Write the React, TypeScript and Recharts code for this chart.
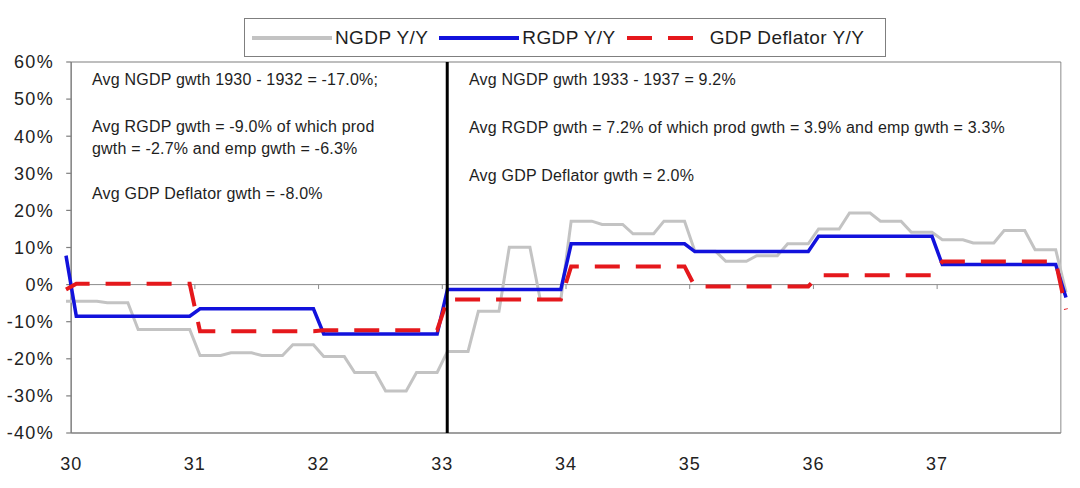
import { LineChart, Line, XAxis, YAxis, ReferenceLine, Legend } from 'recharts';

const FONT = '"Liberation Sans", Arial, sans-serif';

// year labels on the category axis and the percent ticks
const years = [30, 31, 32, 33, 34, 35, 36, 37];
const pctTicks = [-40, -30, -20, -10, 0, 10, 20, 30, 40, 50, 60];
const frameStart = 30;
const frameEnd = 38;
const dividerAt = 33.04;

// monthly Y/Y growth, Dec 1929 .. Jan 1938
const ngdp = [
  -4.5,
  -4.5, -4.5, -4.5, -4.9, -4.9, -4.9, -12.1, -12.1, -12.1, -12.1, -12.1, -12.1,
  -19.1, -19.1, -19.1, -18.4, -18.4, -18.4, -19.1, -19.1, -19.1, -16.2, -16.2, -16.2,
  -19.4, -19.4, -19.4, -23.7, -23.7, -23.7, -28.7, -28.7, -28.7, -23.7, -23.7, -23.7,
  -18.0, -18.0, -18.0, -7.2, -7.2, -7.2, 10.1, 10.1, 10.1, -4.0, -4.0, -4.0,
  17.1, 17.1, 17.1, 16.2, 16.2, 16.2, 13.7, 13.7, 13.7, 17.1, 17.1, 17.1,
  9.0, 9.0, 9.0, 6.3, 6.3, 6.3, 7.8, 7.8, 7.8, 11.0, 11.0, 11.0,
  15.0, 15.0, 15.0, 19.3, 19.3, 19.3, 17.1, 17.1, 17.1, 14.1, 14.1, 14.1,
  12.1, 12.1, 12.1, 11.2, 11.2, 11.2, 14.6, 14.6, 14.6, 9.4, 9.4, 9.4,
  -2.0,
];

const rgdp = [
  7.8,
  -8.5, -8.5, -8.5, -8.5, -8.5, -8.5, -8.5, -8.5, -8.5, -8.5, -8.5, -8.5,
  -6.5, -6.5, -6.5, -6.5, -6.5, -6.5, -6.5, -6.5, -6.5, -6.5, -6.5, -6.5,
  -13.3, -13.3, -13.3, -13.3, -13.3, -13.3, -13.3, -13.3, -13.3, -13.3, -13.3, -13.3,
  -1.3, -1.3, -1.3, -1.3, -1.3, -1.3, -1.3, -1.3, -1.3, -1.3, -1.3, -1.3,
  11.0, 11.0, 11.0, 11.0, 11.0, 11.0, 11.0, 11.0, 11.0, 11.0, 11.0, 11.0,
  8.9, 8.9, 8.9, 8.9, 8.9, 8.9, 8.9, 8.9, 8.9, 8.9, 8.9, 8.9,
  13.0, 13.0, 13.0, 13.0, 13.0, 13.0, 13.0, 13.0, 13.0, 13.0, 13.0, 13.0,
  5.4, 5.4, 5.4, 5.4, 5.4, 5.4, 5.4, 5.4, 5.4, 5.4, 5.4, 5.4,
  -3.5,
];

const deflator = [
  -1.3,
  0.2, 0.2, 0.2, 0.2, 0.2, 0.2, 0.2, 0.2, 0.2, 0.2, 0.2, 0.2,
  -12.6, -12.6, -12.6, -12.6, -12.6, -12.6, -12.6, -12.6, -12.6, -12.6, -12.6, -12.6,
  -12.3, -12.3, -12.3, -12.3, -12.3, -12.3, -12.3, -12.3, -12.3, -12.3, -12.3, -12.3,
  -4.0, -4.0, -4.0, -4.0, -4.0, -4.0, -4.0, -4.0, -4.0, -4.0, -4.0, -4.0,
  4.9, 4.9, 4.9, 4.9, 4.9, 4.9, 4.9, 4.9, 4.9, 4.9, 4.9, 4.9,
  -0.5, -0.5, -0.5, -0.5, -0.5, -0.5, -0.5, -0.5, -0.5, -0.5, -0.5, -0.5,
  2.5, 2.5, 2.5, 2.5, 2.5, 2.5, 2.5, 2.5, 2.5, 2.5, 2.5, 2.5,
  6.2, 6.2, 6.2, 6.2, 6.2, 6.2, 6.2, 6.2, 6.2, 6.2, 6.2, 6.2,
  -6.7,
];

const leftNotes = [
  'Avg NGDP gwth 1930 - 1932 = -17.0%;',
  'Avg RGDP gwth = -9.0% of which prod',
  'gwth = -2.7% and emp gwth = -6.3%',
  'Avg GDP Deflator gwth = -8.0%',
];
const rightNotes = [
  'Avg NGDP gwth 1933 - 1937 = 9.2%',
  'Avg RGDP gwth = 7.2% of which prod gwth = 3.9% and emp gwth = 3.3%',
  'Avg GDP Deflator gwth = 2.0%',
];

// month k sits mid-month: Dec 1929 is k = 0
const data = ngdp.map((v, i) => ({
  t: 30 + (i - 0.5) / 12,
  ngdp: v,
  rgdp: rgdp[i],
  deflator: deflator[i],
}));

const legendOrder = ['ngdp', 'rgdp', 'deflator'];
const dashFor: Record<string, string | undefined> = {
  ngdp: undefined,
  rgdp: undefined,
  deflator: '25 16',
};

function LegendBox(props: any) {
  const payload = [...(props.payload || [])].sort(
    (a: any, b: any) => legendOrder.indexOf(a.dataKey) - legendOrder.indexOf(b.dataKey)
  );
  return (
    <div
      style={{
        boxSizing: 'border-box',
        width: 642,
        height: 39,
        border: '1px solid #7f7f7f',
        background: '#fff',
        display: 'flex',
        alignItems: 'center',
        paddingLeft: 7,
        fontFamily: FONT,
        fontSize: 19,
        color: '#1e1e1e',
        letterSpacing: 0.4,
      }}
    >
      {payload.map((e: any) => (
        <div key={e.dataKey} style={{ display: 'flex', alignItems: 'center', marginRight: 11 }}>
          <svg width={80} height={10} style={{ display: 'block' }}>
            <line
              x1={0}
              y1={5}
              x2={80}
              y2={5}
              stroke={e.color}
              strokeWidth={4}
              strokeDasharray={dashFor[e.dataKey]}
            />
          </svg>
          <span style={{ marginLeft: 3 }}>{e.value}</span>
        </div>
      ))}
    </div>
  );
}

export default function App() {
  const textStyle = { fontFamily: FONT, fontSize: 16, fill: '#1e1e1e', letterSpacing: 0.2 };
  return (
    <div style={{ position: 'absolute', left: 0, top: 0, width: 1080, height: 488, background: '#fff' }}>
      <LineChart width={1080} height={488} data={data} margin={{ top: 62, right: 14, bottom: 15, left: 6 }}>
        <XAxis
          type="number"
          dataKey="t"
          domain={['dataMin', 'dataMax']}
          ticks={years}
          interval={0}
          axisLine={false}
          tickLine={false}
          tickSize={0}
          tickMargin={24}
          height={40}
          tick={{ fontFamily: FONT, fontSize: 18, fill: '#222', letterSpacing: 1 }}
        />
        <YAxis
          type="number"
          domain={[-40, 60]}
          ticks={pctTicks}
          interval={0}
          axisLine={false}
          tickLine={false}
          tickSize={0}
          tickMargin={12}
          width={60}
          tickFormatter={(v: number) => `${v}%`}
          tick={{ fontFamily: FONT, fontSize: 18, fill: '#222', letterSpacing: 1.3 }}
        />

        {/* plot frame */}
        <ReferenceLine segment={[{ x: frameStart, y: -40 }, { x: frameStart, y: 60 }]} stroke="#7f7f7f" strokeWidth={1.5} />
        <ReferenceLine segment={[{ x: frameEnd, y: -40 }, { x: frameEnd, y: 60 }]} stroke="#8c8c8c" strokeWidth={1} />
        <ReferenceLine segment={[{ x: frameStart, y: 60 }, { x: frameEnd, y: 60 }]} stroke="#7f7f7f" strokeWidth={1.2} />
        <ReferenceLine segment={[{ x: frameStart, y: -40 }, { x: frameEnd, y: -40 }]} stroke="#7f7f7f" strokeWidth={1.5} />
        <ReferenceLine segment={[{ x: frameStart, y: 0 }, { x: frameEnd, y: 0 }]} stroke="#8c8c8c" strokeWidth={1} />
        {pctTicks.map((v) => (
          <ReferenceLine key={'yt' + v} segment={[{ x: 29.96, y: v }, { x: frameStart, y: v }]} stroke="#7f7f7f" strokeWidth={1.2} />
        ))}
        {years.slice(1).map((yr) => (
          <ReferenceLine key={'xt' + yr} segment={[{ x: yr, y: 0 }, { x: yr, y: -1.2 }]} stroke="#8c8c8c" strokeWidth={1} />
        ))}

        <Line
          type="linear"
          dataKey="ngdp"
          name="NGDP Y/Y"
          stroke="#c3c3c3"
          strokeWidth={3}
          dot={false}
          activeDot={false}
          isAnimationActive={false}
        />
        <Line
          type="linear"
          dataKey="rgdp"
          name="RGDP Y/Y"
          stroke="#1212dc"
          strokeWidth={3.5}
          dot={false}
          activeDot={false}
          isAnimationActive={false}
        />
        <Line
          type="linear"
          dataKey="deflator"
          name="GDP Deflator Y/Y"
          stroke="#e5181c"
          strokeWidth={4}
          strokeDasharray="25 16"
          dot={false}
          activeDot={false}
          isAnimationActive={false}
        />
        <ReferenceLine x={dividerAt} stroke="#000" strokeWidth={3} />

        <Legend
          layout="horizontal"
          verticalAlign="middle"
          align="center"
          content={<LegendBox />}
          wrapperStyle={{ top: 18, left: 244, width: 642, height: 39 }}
        />
      </LineChart>

      <svg width={1080} height={488} style={{ position: 'absolute', left: 0, top: 0, pointerEvents: 'none' }}>
        {leftNotes.map((s, i) => (
          <text key={s} x={92} y={[85, 132, 154, 199][i]} style={textStyle}>
            {s}
          </text>
        ))}
        {rightNotes.map((s, i) => (
          <text key={s} x={469} y={[85, 133, 181][i]} style={textStyle}>
            {s}
          </text>
        ))}
      </svg>
    </div>
  );
}
